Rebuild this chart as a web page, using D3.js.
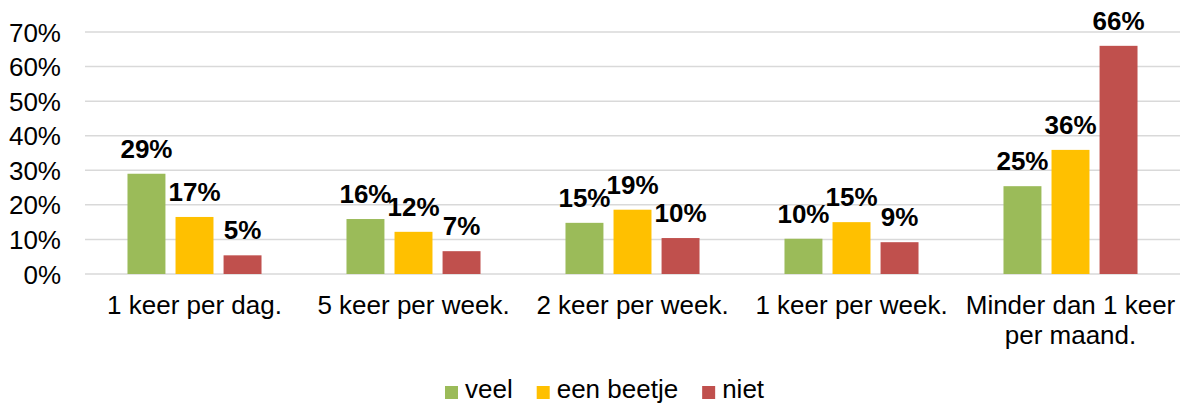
<!DOCTYPE html>
<html>
<head>
<meta charset="utf-8">
<script src="https://cdn.jsdelivr.net/npm/d3@7"></script>
<style>
  body { margin: 0; background: #fff; }
  svg text { font-family: "Liberation Sans", Arial, sans-serif; fill: #000; }
</style>
</head>
<body>
<div id="chart"></div>
<script>
// categories (x axis), split over lines where the reference wraps
var categories = ["1 keer per dag.", "5 keer per week.", "2 keer per week.", "1 keer per week.", "Minder dan 1 keer per maand."];
var categoryLines = [["1 keer per dag."], ["5 keer per week."], ["2 keer per week."], ["1 keer per week."], ["Minder dan 1 keer", "per maand."]];

var seriesNames = ["veel", "een beetje", "niet"];
var veel = [0.29, 0.159, 0.148, 0.102, 0.254];
var eenBeetje = [0.165, 0.122, 0.186, 0.150, 0.359];
var niet = [0.054, 0.066, 0.104, 0.092, 0.660];
var yTicks = [0, 0.1, 0.2, 0.3, 0.4, 0.5, 0.6, 0.7];

var colors = ["#9BBB59", "#FFC000", "#C0504D"];

function drawChart() {
    var width = 1182, height = 403;
    var left = 85, right = 1180, top = 32, bottom = 274;

    var svg = d3.select("#chart").append("svg")
        .attr("width", width)
        .attr("height", height);

    var series = [veel, eenBeetje, niet];
    var data = categories.map(function (c, i) {
        return {
            category: c,
            lines: categoryLines[i],
            values: series.map(function (s, j) { return { name: seriesNames[j], value: s[i], color: colors[j] } })
        }
    })

    var y = d3.scaleLinear()
        .domain([0, 0.7])
        .range([bottom, top]);

    var x0 = d3.scaleBand()
        .domain(categories)
        .range([left, right])
        .paddingInner(0.388)
        .paddingOuter(0.194);

    var x1 = d3.scaleBand()
        .domain(seriesNames)
        .range([0, x0.bandwidth()])
        .paddingInner(0.21);

    // gridlines
    svg.append("g")
        .selectAll("line")
        .data(yTicks)
        .enter().append("line")
        .attr("x1", left)
        .attr("x2", right)
        .attr("y1", function (d) { return y(d) })
        .attr("y2", function (d) { return y(d) })
        .attr("stroke", "#D9D9D9")
        .attr("stroke-width", 1.5);

    // y axis labels
    var yAxis = d3.axisLeft(y)
        .tickValues(yTicks)
        .tickFormat(d3.format(".0%"))
        .tickSize(0)
        .tickPadding(24);

    var yg = svg.append("g")
        .attr("transform", "translate(" + left + ",0)")
        .call(yAxis);
    yg.select(".domain").remove();
    yg.selectAll("text")
        .style("font-size", "26px")
        .attr("dy", "0.35em");

    var groups = svg.selectAll(".group")
        .data(data)
        .enter().append("g")
        .attr("class", "group")
        .attr("transform", function (d) { return "translate(" + x0(d.category) + ",0)" });

    groups.selectAll("rect")
        .data(function (d) { return d.values })
        .enter().append("rect")
        .attr("x", function (d) { return x1(d.name) })
        .attr("width", x1.bandwidth())
        .attr("y", function (d) { return y(d.value) })
        .attr("height", function (d) { return bottom - y(d.value) })
        .attr("fill", function (d) { return d.color });

    // value labels
    groups.selectAll(".val")
        .data(function (d) { return d.values })
        .enter().append("text")
        .attr("class", "val")
        .attr("x", function (d) { return x1(d.name) + x1.bandwidth() / 2 })
        .attr("y", function (d) { return y(d.value) - 16 })
        .attr("text-anchor", "middle")
        .style("font-size", "26px")
        .style("font-weight", "bold")
        .text(function (d) { return d3.format(".0%")(d.value) });

    // category labels
    groups.each(function (d) {
        var t = d3.select(this).append("text")
            .attr("text-anchor", "middle")
            .style("font-size", "26px");
        d.lines.forEach(function (line, i) {
            t.append("tspan")
                .attr("x", x0.bandwidth() / 2)
                .attr("y", 314 + i * 30)
                .text(line);
        })
    })

    // legend
    var legend = svg.append("g");
    var lx = 445;
    seriesNames.forEach(function (name, i) {
        legend.append("rect")
            .attr("x", lx)
            .attr("y", 386)
            .attr("width", 13)
            .attr("height", 13)
            .attr("fill", colors[i]);
        var t = legend.append("text")
            .attr("x", lx + 20)
            .attr("y", 398)
            .style("font-size", "26px")
            .text(name);
        lx += 20 + t.node().getComputedTextLength() + 24;
    })
}

drawChart();
</script>
</body>
</html>
